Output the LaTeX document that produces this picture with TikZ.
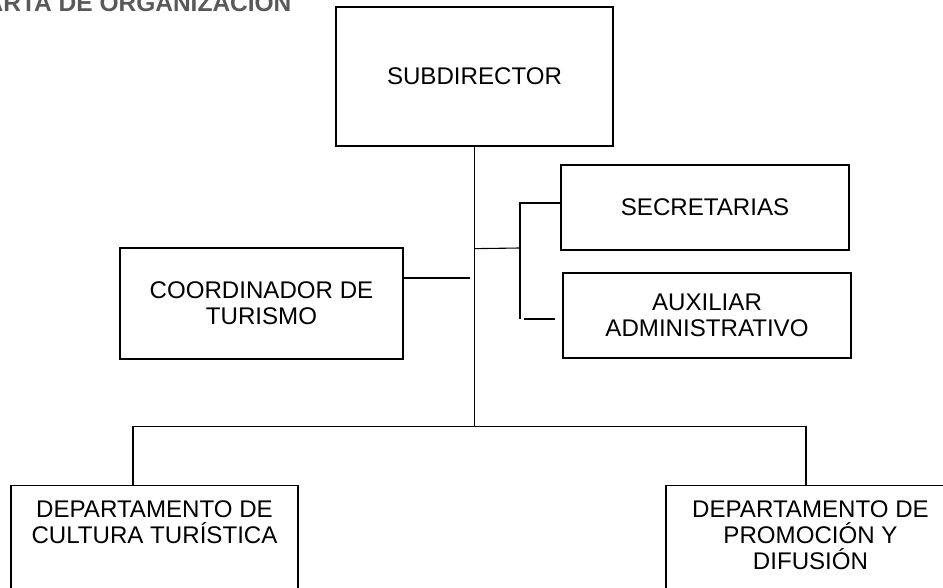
\documentclass[tikz,border=0pt]{standalone}
\usepackage{fontspec}
\setmainfont{Liberation Sans}
\usetikzlibrary{positioning}
\definecolor{titulo}{HTML}{595959}
\newcommand{\orgfont}{\fontsize{24.1}{26}\selectfont}

\begin{document}
\begin{tikzpicture}[x=1pt,y=-1pt,
        puesto/.style={draw, line width=1.3pt, align=center, font=\orgfont, inner sep=0pt},
        rotulo/.style={align=center, font=\orgfont, inner sep=0pt},
        enlace/.style={line width=1.1pt}]
    \useasboundingbox (0,0) rectangle (943,588);
    \begin{scope}
        \clip (0,0) rectangle (943,588);
        % titulo cortado arriba
        \node[anchor=base east, font=\fontsize{24.5}{26}\selectfont\bfseries, text=titulo] (tit) at (295,12) {CARTA DE ORGANIZACIÓN};
        % puestos
        \node[puesto, minimum width=277, minimum height=139] (sub) at (474.5,76.5) {SUBDIRECTOR};
        \node[puesto, minimum width=283, minimum height=111] (coord) at (261.5,303.5) {COORDINADOR DE\\TURISMO};
        \node[puesto, minimum width=288, minimum height=85] (sec) at (705,207.5) {SECRETARIAS};
        \node[puesto, minimum width=288, minimum height=85] (aux) at (707,315.5) {AUXILIAR\\ADMINISTRATIVO};
        \node[puesto, minimum width=287, minimum height=130, anchor=north] (cult) at (154.5,485) {};
        \node[puesto, minimum width=289, minimum height=130, anchor=north] (prom) at (810.5,485) {};
        \node[rotulo, below=15pt of cult.north] (cultxt) {DEPARTAMENTO DE\\CULTURA TURÍSTICA};
        \node[rotulo, below=15pt of prom.north] (promtxt) {DEPARTAMENTO DE\\PROMOCIÓN Y\\DIFUSIÓN};
        % puntos de las lineas
        \coordinate (eje) at ([yshift=-280pt]sub.south);
        \coordinate (rama) at ([yshift=-102pt]sub.south);
        \coordinate (nudo) at (520,248);
        \coordinate (ramaSec) at (520,203);
        \coordinate (ramaAux) at (520,319);
        \coordinate (auxIni) at (524,319);
        \coordinate (auxFin) at (555,319);
        \coordinate (coordFin) at (470,278);
        \coordinate (bajaIzq) at ([xshift=-21.5pt]cult.north);
        \coordinate (bajaDer) at ([xshift=-4.5pt]prom.north);
        % lineas
        \draw[enlace] (sub.south) -- (eje);
        \draw[enlace] (bajaIzq) |- (eje) -| (bajaDer);
        \draw[enlace] (rama) -- (nudo);
        \draw[enlace] (ramaAux) -- (ramaSec) -- (sec.west |- ramaSec);
        \draw[enlace] (auxIni) -- (auxFin);
        \draw[enlace] (coord.east |- coordFin) -- (coordFin);
    \end{scope}
\end{tikzpicture}
\end{document}
